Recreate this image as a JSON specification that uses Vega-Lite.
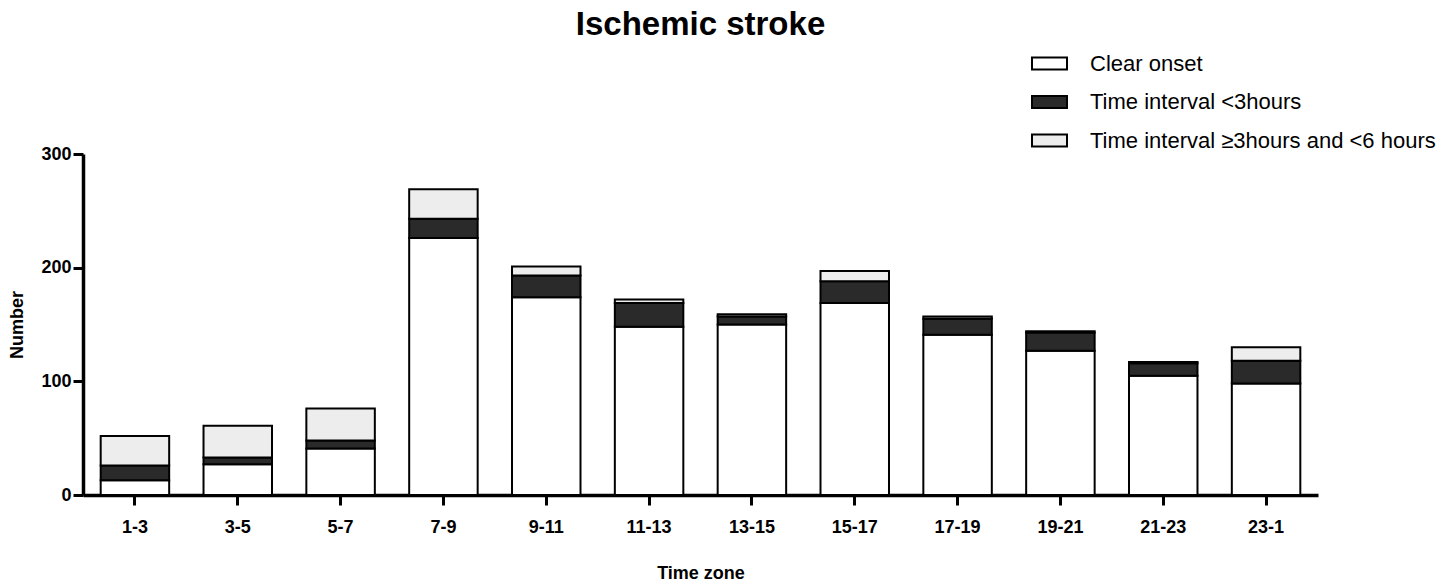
{
  "$schema": "https://vega.github.io/schema/vega-lite/v6.json",
  "autosize": {"type": "none"},
  "padding": {"left": 83, "top": 154, "right": 130, "bottom": 91},
  "width": 1235,
  "height": 341,
  "background": "white",
  "title": {
    "text": "Ischemic stroke",
    "font": "Liberation Sans",
    "fontSize": 33,
    "fontWeight": "bold",
    "color": "black",
    "anchor": "middle",
    "offset": 3
  },
  "config": {
    "view": {"stroke": null},
    "font": "Liberation Sans"
  },
  "data": {
    "values": [
      {"zone": "1-3", "category": "Clear onset", "ord": 1, "value": 13},
      {"zone": "1-3", "category": "Time interval <3hours", "ord": 2, "value": 13},
      {"zone": "1-3", "category": "Time interval ≥3hours and <6 hours", "ord": 3, "value": 26},
      {"zone": "3-5", "category": "Clear onset", "ord": 1, "value": 27},
      {"zone": "3-5", "category": "Time interval <3hours", "ord": 2, "value": 6},
      {"zone": "3-5", "category": "Time interval ≥3hours and <6 hours", "ord": 3, "value": 28},
      {"zone": "5-7", "category": "Clear onset", "ord": 1, "value": 41},
      {"zone": "5-7", "category": "Time interval <3hours", "ord": 2, "value": 7},
      {"zone": "5-7", "category": "Time interval ≥3hours and <6 hours", "ord": 3, "value": 28},
      {"zone": "7-9", "category": "Clear onset", "ord": 1, "value": 226},
      {"zone": "7-9", "category": "Time interval <3hours", "ord": 2, "value": 17},
      {"zone": "7-9", "category": "Time interval ≥3hours and <6 hours", "ord": 3, "value": 26},
      {"zone": "9-11", "category": "Clear onset", "ord": 1, "value": 174},
      {"zone": "9-11", "category": "Time interval <3hours", "ord": 2, "value": 19},
      {"zone": "9-11", "category": "Time interval ≥3hours and <6 hours", "ord": 3, "value": 8},
      {"zone": "11-13", "category": "Clear onset", "ord": 1, "value": 148},
      {"zone": "11-13", "category": "Time interval <3hours", "ord": 2, "value": 21},
      {"zone": "11-13", "category": "Time interval ≥3hours and <6 hours", "ord": 3, "value": 3},
      {"zone": "13-15", "category": "Clear onset", "ord": 1, "value": 150},
      {"zone": "13-15", "category": "Time interval <3hours", "ord": 2, "value": 7},
      {"zone": "13-15", "category": "Time interval ≥3hours and <6 hours", "ord": 3, "value": 2},
      {"zone": "15-17", "category": "Clear onset", "ord": 1, "value": 169},
      {"zone": "15-17", "category": "Time interval <3hours", "ord": 2, "value": 19},
      {"zone": "15-17", "category": "Time interval ≥3hours and <6 hours", "ord": 3, "value": 9},
      {"zone": "17-19", "category": "Clear onset", "ord": 1, "value": 141},
      {"zone": "17-19", "category": "Time interval <3hours", "ord": 2, "value": 14},
      {"zone": "17-19", "category": "Time interval ≥3hours and <6 hours", "ord": 3, "value": 2},
      {"zone": "19-21", "category": "Clear onset", "ord": 1, "value": 127},
      {"zone": "19-21", "category": "Time interval <3hours", "ord": 2, "value": 16},
      {"zone": "19-21", "category": "Time interval ≥3hours and <6 hours", "ord": 3, "value": 1},
      {"zone": "21-23", "category": "Clear onset", "ord": 1, "value": 105},
      {"zone": "21-23", "category": "Time interval <3hours", "ord": 2, "value": 11},
      {"zone": "21-23", "category": "Time interval ≥3hours and <6 hours", "ord": 3, "value": 1},
      {"zone": "23-1", "category": "Clear onset", "ord": 1, "value": 98},
      {"zone": "23-1", "category": "Time interval <3hours", "ord": 2, "value": 20},
      {"zone": "23-1", "category": "Time interval ≥3hours and <6 hours", "ord": 3, "value": 12}
    ]
  },
  "mark": {"type": "bar", "stroke": "black", "strokeWidth": 2},
  "encoding": {
    "x": {
      "field": "zone",
      "type": "nominal",
      "sort": null,
      "scale": {"paddingInner": 0.334, "paddingOuter": 0.172},
      "axis": {
        "title": "Time zone",
        "labelAngle": 0,
        "labelFont": "Liberation Sans",
        "labelFontSize": 18,
        "labelFontWeight": "bold",
        "labelColor": "black",
        "labelPadding": 13,
        "tickSize": 10,
        "tickWidth": 3,
        "tickColor": "black",
        "domainColor": "black",
        "domainWidth": 3.5,
        "titleFont": "Liberation Sans",
        "titleFontSize": 18,
        "titleFontWeight": "bold",
        "titleColor": "black",
        "titleBaseline": "top",
        "titleY": 69
      }
    },
    "y": {
      "field": "value",
      "type": "quantitative",
      "stack": "zero",
      "scale": {"domain": [0, 300], "nice": false},
      "axis": {
        "title": "Number",
        "values": [0, 100, 200, 300],
        "grid": false,
        "labelFont": "Liberation Sans",
        "labelFontSize": 18,
        "labelFontWeight": "bold",
        "labelColor": "black",
        "labelPadding": 2,
        "tickSize": 10,
        "tickWidth": 3,
        "tickColor": "black",
        "domainColor": "black",
        "domainWidth": 3.5,
        "titleFont": "Liberation Sans",
        "titleFontSize": 18,
        "titleFontWeight": "bold",
        "titleColor": "black",
        "titleX": -57,
        "titleY": 170.5,
        "titleBaseline": "bottom"
      }
    },
    "color": {
      "field": "category",
      "type": "nominal",
      "scale": {
        "domain": ["Clear onset", "Time interval <3hours", "Time interval ≥3hours and <6 hours"],
        "range": ["#ffffff", "#2a2a2a", "#ededed"]
      },
      "legend": {
        "title": null,
        "orient": "none",
        "legendX": 948,
        "legendY": -109,
        "padding": 0,
        "symbolType": "M-1,-0.343L1,-0.343L1,0.343L-1,0.343Z",
        "symbolSize": 1225,
        "symbolStrokeColor": "black",
        "symbolStrokeWidth": 2,
        "symbolOpacity": 1,
        "labelFont": "Liberation Sans",
        "labelFontSize": 22,
        "labelColor": "black",
        "labelOffset": 22,
        "rowPadding": 8.5,
        "labelLimit": 500
      }
    },
    "order": {"field": "ord", "type": "quantitative"}
  }
}
